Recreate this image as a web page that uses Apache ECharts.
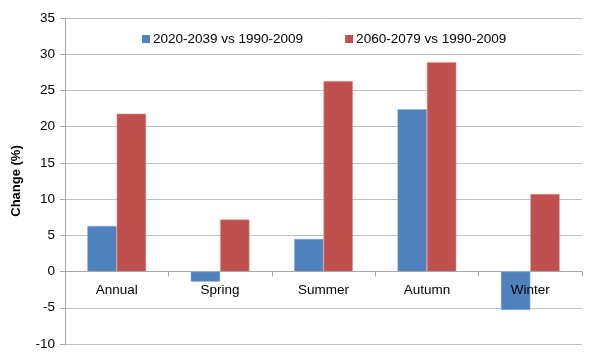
<!DOCTYPE html>
<html><head><meta charset="utf-8">
<script src="https://cdn.jsdelivr.net/npm/echarts@6/dist/echarts.min.js"></script>
<style>html,body{margin:0;padding:0;background:#fff}#c{width:600px;height:361px}</style>
</head><body><div id="c"></div>
<script>
const categories = ['Annual', 'Spring', 'Summer', 'Autumn', 'Winter'];
const seriesNames = ['2020-2039 vs 1990-2009', '2060-2079 vs 1990-2009'];
const near = [6.3, -1.4, 4.5, 22.4, -5.3];
const far = [21.8, 7.2, 26.3, 28.9, 10.7];
const yTicks = { min: -10, max: 35, interval: 5 };

const chart = echarts.init(document.getElementById('c'), null, { renderer: 'canvas' });
const font = 'Liberation Sans, Arial, sans-serif';
const gridTop = 18, gridBottom = 17, H = 361;
// place the category axis on the zero line (computed from the y scale)
const plotH = H - gridTop - gridBottom;
const zeroOffset = -plotH * (0 - yTicks.min) / (yTicks.max - yTicks.min);
chart.setOption({
  animation: false,
  backgroundColor: '#fff',
  grid: { left: 65, right: 18, top: gridTop, bottom: gridBottom, containLabel: false, outerBoundsMode: 'none' },
  legend: {
    top: 27, left: 137,
    itemWidth: 8, itemHeight: 8, itemGap: 42,
    icon: 'rect',
    itemStyle: { borderWidth: 0 },
    textStyle: { fontFamily: font, fontSize: 13.5, color: '#000', padding: [0, 0, 0, -2] },
    data: seriesNames
  },
  xAxis: {
    type: 'category', data: categories,
    offset: zeroOffset,
    axisLine: { onZero: false, lineStyle: { color: '#a6a6a6' } },
    axisTick: { show: true, length: 5, lineStyle: { color: '#a6a6a6' } },
    axisLabel: { fontFamily: font, fontSize: 13.5, color: '#000', margin: 12 },
    splitLine: { show: false },
    z: 5
  },
  yAxis: {
    type: 'value', min: yTicks.min, max: yTicks.max, interval: yTicks.interval,
    name: 'Change (%)', nameLocation: 'middle', nameGap: 42,
    nameTextStyle: { fontFamily: font, fontSize: 13, fontWeight: 'bold', color: '#000' },
    axisLine: { show: true, lineStyle: { color: '#a6a6a6' } },
    axisTick: { show: true, length: 5, lineStyle: { color: '#a6a6a6' } },
    axisLabel: { fontFamily: font, fontSize: 13.5, color: '#000', margin: 10 },
    splitLine: { lineStyle: { color: '#bfbfbf' } }
  },
  series: [
    { name: seriesNames[0], type: 'bar', data: near, barWidth: '28.4%', barGap: '0%',
      itemStyle: { color: '#4F81BD', borderColor: '#8aaad6', borderWidth: 0.5 } },
    { name: seriesNames[1], type: 'bar', data: far, barWidth: '28.4%', barGap: '0%',
      itemStyle: { color: '#C0504D', borderColor: '#e49a98', borderWidth: 0.5 } }
  ]
});
</script></body></html>
